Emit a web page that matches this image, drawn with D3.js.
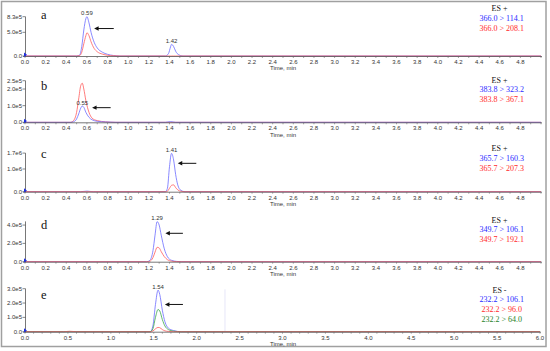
<!DOCTYPE html>
<html lang="en">
<head>
<meta charset="UTF-8">
<title>Chromatograms MRM</title>
<script src="https://d3js.org/d3.v7.min.js"></script>
<style>
  body { margin: 0; background: #fff; }
  .tk { font-family: "Liberation Sans", Arial, sans-serif; font-size: 6px; fill: #333; }
  .leg { font-family: "Liberation Serif", "Times New Roman", serif; font-size: 8px; }
  .letter { font-family: "Liberation Serif", "Times New Roman", serif; font-size: 12.5px; fill: #111; }
</style>
</head>
<body>
<script>
// ---- data ----
var timeA = [0, 0.50, 0.53, 0.55, 0.57, 0.59, 0.60, 0.62, 0.64, 0.67, 0.70, 0.75, 0.80, 0.86, 0.92, 1.36, 1.39, 1.41, 1.42, 1.44, 1.46, 1.49, 1.53, 5.0];
var blueA = [0, 0, 0.2e5, 2.0e5, 5.5e5, 7.9e5, 8.3e5, 7.0e5, 5.0e5, 2.9e5, 1.7e5, 0.8e5, 0.35e5, 0.1e5, 0, 0, 0.5e5, 1.9e5, 2.47e5, 2.0e5, 1.0e5, 0.25e5, 0, 0];
var redA  = [0, 0, 0.1e5, 0.8e5, 2.6e5, 4.3e5, 4.9e5, 4.3e5, 3.0e5, 1.6e5, 0.9e5, 0.4e5, 0.15e5, 0.05e5, 0, 0, 0, 0, 0, 0, 0, 0, 0, 0];

var timeB = [0, 0.44, 0.47, 0.50, 0.52, 0.54, 0.555, 0.57, 0.59, 0.62, 0.65, 0.70, 0.78, 0.88, 1.36, 1.41, 1.46, 5.0];
var blueB = [0, 0, 0.03e5, 0.2e5, 0.5e5, 0.85e5, 0.98e5, 0.9e5, 0.6e5, 0.3e5, 0.15e5, 0.06e5, 0.02e5, 0, 0, 0.04e5, 0, 0];
var redB  = [0, 0, 0.1e5, 0.6e5, 1.4e5, 2.2e5, 2.35e5, 2.0e5, 1.3e5, 0.6e5, 0.25e5, 0.1e5, 0.03e5, 0, 0, 0, 0, 0];

var timeC = [0, 0.54, 0.60, 0.66, 1.36, 1.38, 1.40, 1.42, 1.44, 1.46, 1.48, 1.51, 1.55, 5.0];
var blueC = [0, 0, 0.025e6, 0, 0, 0.15e6, 1.1e6, 1.69e6, 1.4e6, 0.75e6, 0.3e6, 0.06e6, 0, 0];
var redC  = [0, 0, 0, 0, 0, 0.02e6, 0.15e6, 0.28e6, 0.3e6, 0.18e6, 0.08e6, 0.02e6, 0, 0];

var timeD = [0, 1.18, 1.21, 1.24, 1.26, 1.28, 1.30, 1.32, 1.35, 1.38, 1.42, 1.47, 1.52, 5.0];
var blueD = [0, 0, 0.15e5, 1.2e5, 2.9e5, 4.37e5, 4.0e5, 2.9e5, 1.4e5, 0.55e5, 0.15e5, 0.03e5, 0, 0];
var redD  = [0, 0, 0.05e5, 0.45e5, 1.05e5, 1.57e5, 1.5e5, 1.1e5, 0.55e5, 0.22e5, 0.06e5, 0.01e5, 0, 0];

var timeE  = [0, 0.45, 0.52, 0.60, 1.46, 1.49, 1.52, 1.55, 1.57, 1.60, 1.63, 1.67, 1.73, 1.82, 6.0];
var blueE  = [0, 0, 0, 0, 0, 0.4e5, 1.9e5, 2.9e5, 2.6e5, 1.5e5, 0.7e5, 0.25e5, 0.08e5, 0, 0];
var redE   = [0, 0, 0.03e5, 0, 0, 0.05e5, 0.2e5, 0.3e5, 0.28e5, 0.15e5, 0.06e5, 0.02e5, 0, 0, 0];
var greenE = [0, 0, 0, 0, 0, 0.2e5, 1.0e5, 1.55e5, 1.45e5, 0.85e5, 0.4e5, 0.15e5, 0.04e5, 0, 0];
var markE  = 2.33; // faint vertical line in e

var yTicksA = [0, 5.0e5, 8.3e5], yLabelsA = ["0.0", "5.0e5", "8.3e5"];
var yTicksB = [0, 1.0e5, 2.0e5, 2.5e5], yLabelsB = ["0.0", "1.0e5", "2.0e5", "2.5e5"];
var yTicksC = [0, 1.0e6, 1.7e6], yLabelsC = ["0.0", "1.0e6", "1.7e6"];
var yTicksD = [0, 2.0e5, 4.0e5], yLabelsD = ["0.0", "2.0e5", "4.0e5"];
var yTicksE = [0, 1.0e5, 2.0e5, 3.0e5], yLabelsE = ["0.0", "1.0e5", "2.0e5", "3.0e5"];

var peaksA = [[0.60, 8.3e5, "0.59"], [1.42, 2.47e5, "1.42"]];
var peaksB = [[0.555, 0.98e5, "0.55"]];
var peaksC = [[1.42, 1.69e6, "1.41"]];
var peaksD = [[1.28, 4.37e5, "1.29"]];
var peaksE = [[1.55, 2.9e5, "1.54"]];

var legendA = ["ES +", "366.0 > 114.1", "366.0 > 208.1"];
var legendB = ["ES +", "383.8 > 323.2", "383.8 > 367.1"];
var legendC = ["ES +", "365.7 > 160.3", "365.7 > 207.3"];
var legendD = ["ES +", "349.7 > 106.1", "349.7 > 192.1"];
var legendE = ["ES -", "232.2 > 106.1", "232.2 > 96.0", "232.2 > 64.0"];

// ---- styles ----
var BLUE = "#6b6bff", RED = "#ff5a5a", GREEN = "#3aa648";
var LBLUE = "#2a2aff", LRED = "#ff2a2a", LGREEN = "#1f7f1f";

var W = 550, H = 351;
var svg = d3.select("body").append("svg").attr("width", W).attr("height", H);

svg.append("rect").attr("x", 1.5).attr("y", 1.5).attr("width", 544.5).attr("height", 345)
  .attr("fill", "none").attr("stroke", "#a0a0a0").attr("stroke-width", 1.5);

var panels = [
  { letter: "a", letterY: 18.5, base: 56, h: 39.3, yMax: 8.3e5, xMax: 5, xEnd: 541, step: 0.2,
    time: timeA, series: [[blueA, BLUE], [redA, RED]], yT: yTicksA, yL: yLabelsA, peaks: peaksA,
    arrow: [0.67, 0.86, 5.8e5], legend: legendA, legY: 11 },
  { letter: "b", letterY: 90, base: 122.3, h: 41.6, yMax: 2.5e5, xMax: 5, xEnd: 541, step: 0.2,
    time: timeB, series: [[redB, RED], [blueB, BLUE]], yT: yTicksB, yL: yLabelsB, peaks: peaksB,
    arrow: [0.65, 0.83, 0.88e5], legend: legendB, legY: 82.5 },
  { letter: "c", letterY: 157.5, base: 191.7, h: 38.6, yMax: 1.7e6, xMax: 5, xEnd: 541, step: 0.2,
    time: timeC, series: [[blueC, BLUE], [redC, RED]], yT: yTicksC, yL: yLabelsC, peaks: peaksC,
    arrow: [1.48, 1.66, 1.25e6], legend: legendC, legY: 151 },
  { letter: "d", letterY: 229, base: 261.7, h: 40.3, yMax: 4.4e5, xMax: 5, xEnd: 541, step: 0.2,
    time: timeD, series: [[blueD, BLUE], [redD, RED]], yT: yTicksD, yL: yLabelsD, peaks: peaksD,
    arrow: [1.36, 1.53, 3.1e5], legend: legendD, legY: 222.5 },
  { letter: "e", letterY: 298.5, base: 331.7, h: 43, yMax: 3.0e5, xMax: 6, xEnd: 540, step: 0.5,
    time: timeE, series: [[blueE, BLUE], [greenE, GREEN], [redE, RED]], yT: yTicksE, yL: yLabelsE, peaks: peaksE,
    arrow: [1.63, 1.84, 1.9e5], legend: legendE, legY: 292.5, mark: markE }
];
var legColors = ["#111", LBLUE, LRED, LGREEN];

panels.forEach(function(p) {
  var g = svg.append("g");
  var x = d3.scaleLinear().domain([0, p.xMax]).range([25, p.xEnd]);
  var y = d3.scaleLinear().domain([0, p.yMax]).range([p.base, p.base - p.h]);

  // faint marker line
  if (p.mark) {
    g.append("line").attr("x1", x(p.mark)).attr("x2", x(p.mark))
      .attr("y1", y(0)).attr("y2", y(2.95e5))
      .attr("stroke", "#dadaf4").attr("stroke-width", 0.7);
  }

  // traces
  var line = d3.line()
    .x(function(d) { return x(d[0]); })
    .y(function(d) { return y(d[1]); })
    .curve(d3.curveMonotoneX);
  p.series.forEach(function(s) {
    var pts = p.time.map(function(t, i) { return [t, s[0][i]]; });
    g.append("path").attr("d", line(pts)).attr("fill", "none")
      .attr("stroke", s[1]).attr("stroke-width", 0.8);
  });

  // x axis
  g.append("line").attr("x1", 23).attr("x2", p.xEnd + 1)
    .attr("y1", p.base + 0.5).attr("y2", p.base + 0.5)
    .attr("stroke", "#555").attr("stroke-width", 0.8);
  var minor = d3.range(0, p.xMax + 0.001, 0.1);
  g.selectAll(".mn").data(minor).enter().append("line")
    .attr("x1", function(d) { return x(d); }).attr("x2", function(d) { return x(d); })
    .attr("y1", p.base + 0.5).attr("y2", p.base + 2)
    .attr("stroke", "#666").attr("stroke-width", 0.6);
  var major = d3.range(0, p.xMax + 0.001 - (p.xMax === 5 ? 0.2 : 0), p.step);
  g.selectAll(".mj").data(major).enter().append("text")
    .attr("class", "tk").attr("text-anchor", "middle")
    .attr("x", function(d) { return x(d); }).attr("y", p.base + 7.8)
    .text(function(d) { return d.toFixed(1); });
  g.append("text").attr("class", "tk").attr("text-anchor", "middle")
    .attr("x", 283).attr("y", p.base + 14.3).text("Time, min");

  // y axis
  g.append("line").attr("x1", 25.5).attr("x2", 25.5)
    .attr("y1", p.base + 0.5).attr("y2", y(p.yMax))
    .attr("stroke", "#555").attr("stroke-width", 0.8);
  p.yT.forEach(function(v, i) {
    g.append("line").attr("x1", 22.5).attr("x2", 25.5)
      .attr("y1", y(v)).attr("y2", y(v)).attr("stroke", "#555").attr("stroke-width", 0.7);
    g.append("text").attr("class", "tk").attr("text-anchor", "end")
      .attr("x", 22).attr("y", y(v) + 2).text(p.yL[i]);
  });

  // blue origin marker
  g.append("path")
    .attr("d", "M" + (x(0) - 1) + "," + (p.base - 3.5) + " l3,2.2 l-3,2.2 Z")
    .attr("fill", "#2030e0");

  // peak labels
  p.peaks.forEach(function(k) {
    g.append("text").attr("class", "tk").attr("text-anchor", "middle")
      .attr("x", x(k[0])).attr("y", y(k[1]) - 1.3).text(k[2]);
  });

  // arrow
  var ax1 = x(p.arrow[0]), ax2 = x(p.arrow[1]), ay = y(p.arrow[2]);
  g.append("line").attr("x1", ax1 + 3).attr("x2", ax2).attr("y1", ay).attr("y2", ay)
    .attr("stroke", "#111").attr("stroke-width", 1);
  g.append("path").attr("d", "M" + ax1 + "," + ay + " l4.5,-2.2 l0,4.4 Z").attr("fill", "#111");

  // panel letter
  g.append("text").attr("class", "letter").attr("x", 41).attr("y", p.letterY).text(p.letter);

  // legend
  p.legend.forEach(function(t, i) {
    g.append("text").attr("class", "leg").attr("text-anchor", "middle")
      .attr("x", i === 0 ? 499.5 : 501.7).attr("y", p.legY + i * 9.8)
      .attr("fill", legColors[i]).text(t);
  });
});
</script>
</body>
</html>
